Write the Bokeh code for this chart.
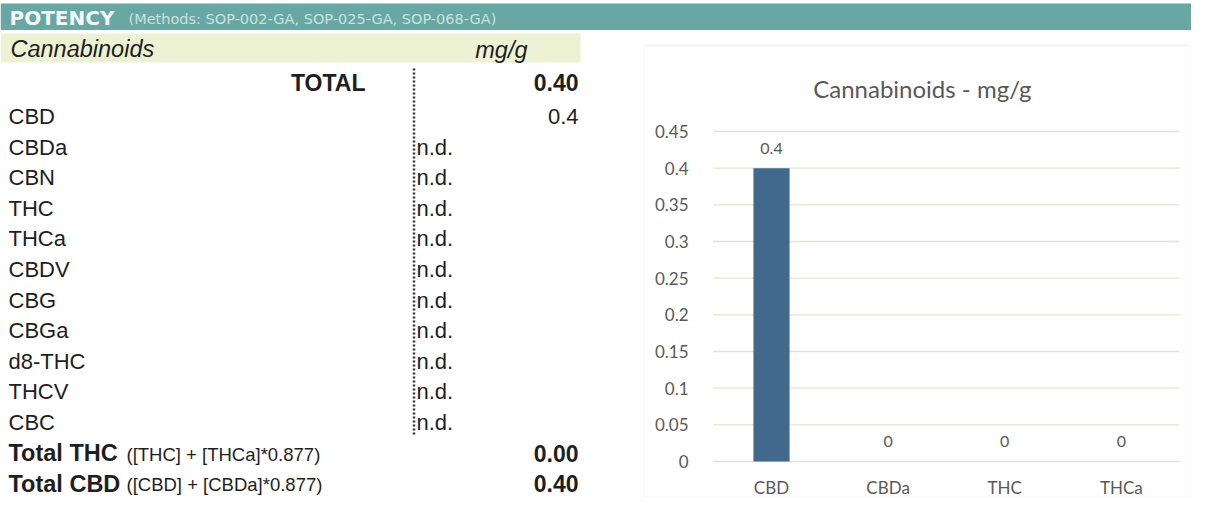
from bokeh.plotting import figure
from bokeh.models import Range1d, ColumnDataSource, LinearAxis, FixedTicker, Label, BoxAnnotation
from bokeh.layouts import column, row
from bokeh.embed import file_html
from bokeh.resources import INLINE
from bokeh.core.properties import value

# ---------------- data ----------------
header_title = "POTENCY"
header_methods = "(Methods: SOP-002-GA, SOP-025-GA, SOP-068-GA)"
table_col_label = "Cannabinoids"
table_unit_label = "mg/g"
total_label = "TOTAL"
total_value = "0.40"
compounds = ["CBD", "CBDa", "CBN", "THC", "THCa", "CBDV", "CBG", "CBGa",
             "d8-THC", "THCV", "CBC"]
results = ["0.4", "n.d.", "n.d.", "n.d.", "n.d.", "n.d.", "n.d.", "n.d.",
           "n.d.", "n.d.", "n.d."]
summary_labels = ["Total THC", "Total CBD"]
summary_formulas = ["([THC] + [THCa]*0.877)", "([CBD] + [CBDa]*0.877)"]
summary_values = ["0.00", "0.40"]

chart_title = "Cannabinoids -  mg/g"
chart_cats = ["CBD", "CBDa", "THC", "THCa"]
chart_vals = [0.4, 0, 0, 0]
y_ticks = [0, 0.05, 0.1, 0.15, 0.2, 0.25, 0.3, 0.35, 0.4, 0.45]
y_tick_labels = ["0", "0.05", "0.1", "0.15", "0.2", "0.25", "0.3", "0.35",
                 "0.4", "0.45"]

# ---------------- styles ----------------
TEAL = "#68a7a3"
BAND = "#eef2d4"
INK = "#1e1e1e"
GREY = "#595959"
BAR = "#41698c"
GRID = "#e4e4cc"
ARIAL = value("Liberation Sans")
LATO = "Lato"


def bare(p):
    p.grid.visible = False
    if p.title is not None:
        p.title.visible = False
    return p


# ---------------- header ----------------
hdr = bare(figure(width=1191, height=30, x_range=Range1d(0, 1191), y_range=Range1d(30, 0),
                  toolbar_location=None, output_backend="svg", min_border=0,
                  x_axis_location=None, y_axis_location=None, outline_line_color=None))
hdr.quad(left=[0], right=[1191], top=[3], bottom=[30], fill_color=TEAL, line_color=None)
hdr.text(x=[9], y=[17], text=[header_title], text_font=value("DejaVu Sans"),
         text_font_style="bold", text_font_size="20px", text_color="#f4f8f6",
         text_baseline="middle", text_align="left")
hdr.text(x=[128], y=[18], text=[header_methods], text_font=value("DejaVu Sans"),
         text_font_size="14.5px", text_color="#c9e2de",
         text_baseline="middle", text_align="left")

# ---------------- table ----------------
tbl = bare(figure(width=643, height=467, x_range=Range1d(0, 643), y_range=Range1d(497, 30),
                  toolbar_location=None, output_backend="svg", min_border=0,
                  x_axis_location=None, y_axis_location=None, outline_line_color=None))
tbl.quad(left=[0], right=[580], top=[33], bottom=[62], fill_color=BAND, line_color=None)
tbl.text(x=[10], y=[48], text=[table_col_label], text_font=ARIAL, text_font_style="italic",
         text_font_size="23.5px", text_color=INK, text_baseline="middle")
tbl.text(x=[527], y=[49], text=[table_unit_label], text_font=ARIAL, text_font_style="italic",
         text_font_size="23.5px", text_color=INK, text_baseline="middle", text_align="right")
tbl.text(x=[365], y=[82], text=[total_label], text_font=ARIAL, text_font_style="bold",
         text_font_size="23px", text_color=INK, text_baseline="middle", text_align="right")
tbl.text(x=[578], y=[82], text=[total_value], text_font=ARIAL, text_font_style="bold",
         text_font_size="23px", text_color=INK, text_baseline="middle", text_align="right")

row_y = [116 + 30.6 * i for i in range(len(compounds))]
tbl.text(x=[8] * len(compounds), y=row_y, text=compounds, text_font=ARIAL,
         text_font_size="22px", text_color=INK, text_baseline="middle")
nd_y = [yy for yy, r in zip(row_y, results) if r == "n.d."]
nd_t = [r for r in results if r == "n.d."]
num_y = [yy for yy, r in zip(row_y, results) if r != "n.d."]
num_t = [r for r in results if r != "n.d."]
tbl.text(x=[416] * len(nd_t), y=nd_y, text=nd_t, text_font=ARIAL,
         text_font_size="22px", text_color=INK, text_baseline="middle")
tbl.text(x=[578] * len(num_t), y=num_y, text=num_t, text_font=ARIAL,
         text_font_size="22px", text_color=INK, text_baseline="middle", text_align="right")

sum_y = [116 + 30.6 * (len(compounds) + i) for i in range(len(summary_labels))]
tbl.text(x=[8] * 2, y=sum_y, text=summary_labels, text_font=ARIAL, text_font_style="bold",
         text_font_size="23.5px", text_color=INK, text_baseline="middle")
tbl.text(x=[126] * 2, y=[yy + 1 for yy in sum_y], text=summary_formulas, text_font=ARIAL,
         text_font_size="18.5px", text_color=INK, text_baseline="middle")
tbl.text(x=[578] * 2, y=sum_y, text=summary_values, text_font=ARIAL, text_font_style="bold",
         text_font_size="23px", text_color=INK, text_baseline="middle", text_align="right")
tbl.line(x=[413.5, 413.5], y=[68, 436], line_dash="2 2", line_width=2.5, line_color="#333333")

# ---------------- chart ----------------
ch = bare(figure(width=548, height=467, x_range=Range1d(-1.0978, 3.602),
                 y_range=Range1d(-0.0491, 0.5877),
                 toolbar_location=None, output_backend="svg", min_border=0,
                 x_axis_location=None, y_axis_location=None, outline_line_color=None))

# chart box border (top edge sits a little below the frame top)
ch.add_layout(BoxAnnotation(top=0.5673, fill_color=None, line_color="#dedccc",
                            line_width=2))

idx = list(range(len(chart_cats)))
src = ColumnDataSource(dict(x=idx, v=chart_vals, lab=[f"{v:g}" for v in chart_vals]))
gsrc = ColumnDataSource(dict(y=y_ticks, x0=[-0.5] * len(y_ticks),
                             x1=[len(chart_cats) - 0.5] * len(y_ticks)))
ch.segment(x0="x0", x1="x1", y0="y", y1="y", source=gsrc, line_color=GRID, line_width=1.3)
ch.vbar(x="x", top="v", bottom=0, width=0.31, source=src, fill_color=BAR, line_color=None)
ch.text(x="x", y="v", text="lab", source=src, text_font=value(LATO), text_font_size="16px",
        text_color=GREY, text_align="center", text_baseline="middle", y_offset=-20)

yax = LinearAxis(fixed_location=-0.6175, ticker=FixedTicker(ticks=y_ticks),
                 major_label_overrides=dict(zip(y_ticks, y_tick_labels)),
                 axis_line_color=None, major_tick_line_color=None, minor_tick_line_color=None,
                 major_label_standoff=5, major_label_text_font=LATO,
                 major_label_text_font_size="17px", major_label_text_color=GREY)
ch.add_layout(yax, "left")
xax = LinearAxis(fixed_location=0, ticker=FixedTicker(ticks=idx),
                 major_label_overrides=dict(zip(idx, chart_cats)),
                 axis_line_color=None, major_tick_line_color=None, minor_tick_line_color=None,
                 major_label_standoff=10, major_label_text_font=LATO,
                 major_label_text_font_size="17px", major_label_text_color=GREY)
ch.add_layout(xax, "below")

ch.add_layout(Label(x=1.32, y=0.5086, text=chart_title, text_align="center",
                    text_baseline="middle", text_font=LATO, text_font_size="24px",
                    text_color=GREY))

layout = column(hdr, row(tbl, ch))
open("out.html", "w").write(file_html(layout, INLINE))
